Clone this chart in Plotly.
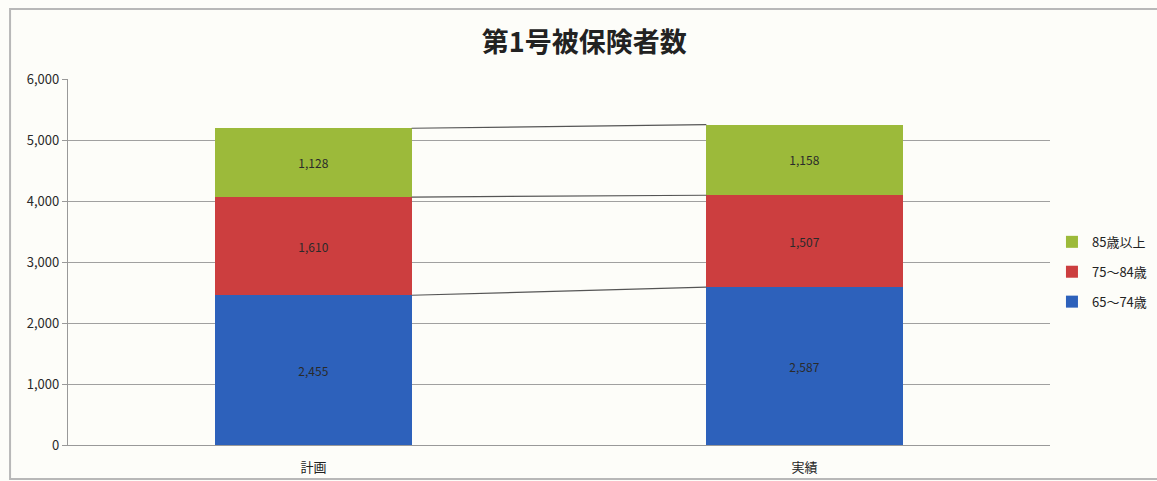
import plotly.graph_objects as go

# 第1号被保険者数: plan vs. actual, stacked by age bracket
categories = ["計画", "実績"]
series_names = ["65～74歳", "75～84歳", "85歳以上"]
age_65_74 = [2455, 2587]
age_75_84 = [1610, 1507]
age_85_up = [1128, 1158]
y_ticks = [0, 1000, 2000, 3000, 4000, 5000, 6000]

colors = ["#2d61bb", "#cc3e3f", "#9cba3a"]
font_jp = "Noto Sans CJK JP"
bar_width = 0.4

fig = go.Figure()
for i, (name, vals) in enumerate(zip(series_names, [age_65_74, age_75_84, age_85_up])):
    fig.add_trace(go.Bar(
        x=categories, y=vals, name=name,
        marker=dict(color=colors[i], line=dict(width=0)),
        width=bar_width,
        text=[f"{v:,}" for v in vals],
        textposition="inside", insidetextanchor="middle",
        textfont=dict(family=font_jp, size=12, color="#2a2a2a"),
        legendgroup=name,
        legendrank=10 - i,  # top segment listed first
    ))

# series lines joining the top of each segment between the two columns
cum_plan, cum_act = 0, 0
for vals in [age_65_74, age_75_84, age_85_up]:
    cum_plan += vals[0]
    cum_act += vals[1]
    fig.add_shape(type="line", xref="x", yref="y",
                  x0=0 + bar_width / 2, x1=1 - bar_width / 2,
                  y0=cum_plan, y1=cum_act,
                  line=dict(color="#555555", width=1.2))

# outer chart frame
fig.add_shape(type="rect", xref="paper", yref="paper",
              x0=-0.059, x1=1.12, y0=-0.093, y1=1.191,
              line=dict(color="#b8b8b8", width=2), fillcolor="rgba(0,0,0,0)",
              layer="below")

fig.update_layout(
    barmode="stack",
    width=1157, height=481,
    paper_bgcolor="#fdfdf9", plot_bgcolor="#fdfdf9",
    margin=dict(l=68, r=107, t=79, b=36, autoexpand=False),
    title=dict(text="<b>第1号被保険者数</b>", x=0.505, xanchor="center",
               y=0.912, yanchor="middle",
               font=dict(family=font_jp, size=27, color="#222222")),
    legend=dict(x=0.002, xanchor="left", y=0.473, yanchor="middle",
                xref="paper", traceorder="grouped", tracegroupgap=10,
                font=dict(family=font_jp, size=13, color="#222222"),
                itemwidth=30, bgcolor="rgba(0,0,0,0)"),
    showlegend=True,
)
# legend sits just to the right of the plotting area
fig.layout.legend.x = 1.002
fig.update_yaxes(
    range=[0, 6000], tickvals=y_ticks, tickformat=",",
    showgrid=True, gridcolor="#a0a0a0", gridwidth=1.4,
    showline=True, linecolor="#999999", linewidth=1.4,
    ticks="outside", ticklen=5, tickcolor="#999999",
    tickfont=dict(family=font_jp, size=13, color="#2a2a2a"),
    zeroline=False,
)
fig.update_xaxes(
    showline=True, linecolor="#999999", linewidth=1.4,
    tickfont=dict(family=font_jp, size=13, color="#222222"),
    ticks="", showgrid=False, ticklabelstandoff=10,
)

fig.write_html("out.html")
